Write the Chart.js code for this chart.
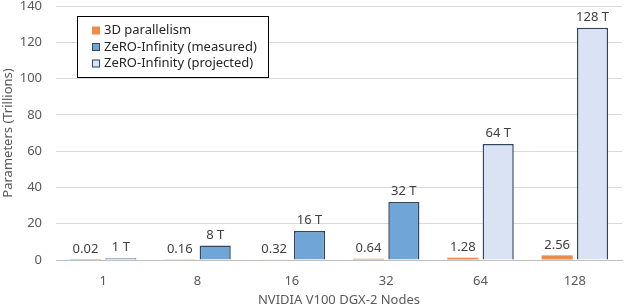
<!DOCTYPE html>
<html>
<head>
<meta charset="utf-8">
<script src="https://cdn.jsdelivr.net/npm/chart.js@4/dist/chart.umd.min.js"></script>
<style>
html,body{margin:0;padding:0;background:#fff;}
#wrap{width:626px;height:308px;position:relative;}
</style>
</head>
<body>
<div id="wrap"><canvas id="c" width="626" height="308"></canvas></div>
<script>
const categories = ['1', '8', '16', '32', '64', '128'];
const parallel3D = [0.02, 0.16, 0.32, 0.64, 1.28, 2.56];
const zeroMeasured = [1, 8, 16, 32, null, null];
const zeroProjected = [null, null, null, null, 64, 128];
const parallelLabels = ['0.02', '0.16', '0.32', '0.64', '1.28', '2.56'];
const zeroLabels = ['1 T', '8 T', '16 T', '32 T', '64 T', '128 T'];
const seriesNames = ['3D parallelism', 'ZeRO-Infinity (measured)', 'ZeRO-Infinity (projected)'];
const yTicks = [0, 20, 40, 60, 80, 100, 120, 140];

const FONT = '"Noto Sans", "Open Sans", sans-serif';

const dataLabelPlugin = {
  id: 'dataLabels',
  afterDatasetsDraw(chart) {
    const ctx = chart.ctx;
    ctx.save();
    ctx.font = '13px ' + FONT;
    ctx.fillStyle = '#404040';
    ctx.textAlign = 'center';
    ctx.textBaseline = 'bottom';
    chart.data.datasets.forEach((ds, di) => {
      const meta = chart.getDatasetMeta(di);
      meta.data.forEach((el, i) => {
        const v = ds.data[i];
        if (v === null || v === undefined) return;
        const txt = di === 0 ? parallelLabels[i] : zeroLabels[i];
        ctx.fillText(txt, el.x, el.y - 4);
      });
    });
    ctx.restore();
  }
};

const legendBoxPlugin = {
  id: 'legendBox',
  afterDraw(chart) {
    const ctx = chart.ctx;
    ctx.save();
    const x0 = 77.5, y0 = 16.5, w = 191, h = 61;
    ctx.fillStyle = '#fff';
    ctx.fillRect(x0, y0, w, h);
    ctx.strokeStyle = '#000';
    ctx.lineWidth = 1;
    ctx.strokeRect(x0, y0, w, h);
    ctx.font = '13px ' + FONT;
    ctx.textBaseline = 'middle';
    ctx.textAlign = 'left';
    const rows = [30.5, 47, 63.5];
    chart.data.datasets.forEach((ds, di) => {
      const y = rows[di];
      ctx.fillStyle = ds.backgroundColor;
      ctx.fillRect(92, y - 4, 8, 8);
      if (ds.borderWidth) {
        ctx.strokeStyle = ds.borderColor;
        ctx.lineWidth = 1;
        ctx.strokeRect(92.5, y - 3.5, 7, 7);
      }
      ctx.fillStyle = '#262626';
      ctx.fillText(ds.label, 104, y);
    });
    ctx.restore();
  }
};

new Chart(document.getElementById('c'), {
  type: 'bar',
  data: {
    labels: categories,
    datasets: [
      { label: seriesNames[0], data: parallel3D, backgroundColor: '#ED8B4A', borderWidth: 0, stack: 'a' },
      { label: seriesNames[1], data: zeroMeasured, backgroundColor: '#6FA5D7', borderColor: '#34465C', borderWidth: 1.5, stack: 'b' },
      { label: seriesNames[2], data: zeroProjected, backgroundColor: '#DAE3F3', borderColor: '#34465C', borderWidth: 1.5, stack: 'b' }
    ]
  },
  options: {
    responsive: false,
    animation: false,
    devicePixelRatio: 1,
    categoryPercentage: 0.75,
    barPercentage: 0.88,
    layout: { padding: { top: 6, right: 4, left: 0, bottom: 0 } },
    plugins: {
      legend: { display: false },
      tooltip: { enabled: false }
    },
    scales: {
      x: {
        stacked: true,
        grid: { display: false, drawTicks: false },
        border: { display: true, color: '#BFBFBF', width: 1 },
        ticks: { color: '#595959', font: { size: 13, family: FONT }, padding: 13 },
        title: { display: true, text: 'NVIDIA V100 DGX-2 Nodes', color: '#595959', font: { size: 13, family: FONT }, padding: { top: 0, bottom: 0 } },
        afterFit(s) { s.height = 48; }
      },
      y: {
        stacked: true,
        min: 0, max: 140,
        afterBuildTicks(s) { s.ticks = yTicks.map(v => ({ value: v })); },
        grid: { color: '#D9D9D9', drawTicks: false, lineWidth: 1 },
        border: { display: false },
        ticks: { color: '#595959', font: { size: 13, family: FONT }, padding: 14 },
        title: { display: true, text: 'Parameters (Trillions)', color: '#595959', font: { size: 13, family: FONT }, padding: { top: 0, bottom: 0 } },
        afterFit(s) { s.width = 56; s.paddingTop = 0; }
      }
    }
  },
  plugins: [dataLabelPlugin, legendBoxPlugin]
});
</script>
</body>
</html>
